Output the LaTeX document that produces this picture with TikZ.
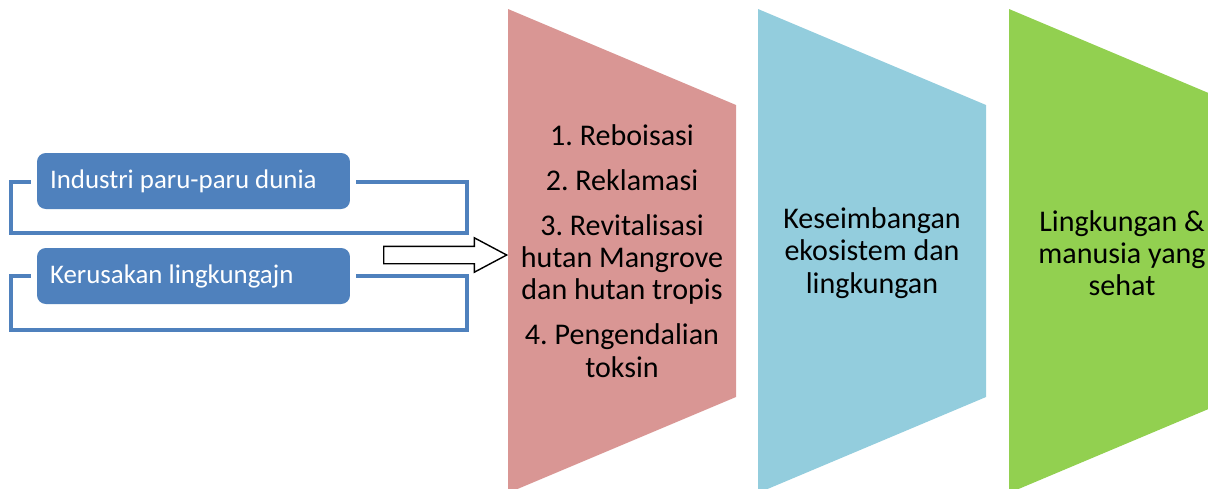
\documentclass[tikz,border=0pt]{standalone}
\usepackage{fontspec}
\setmainfont{Carlito}
\usetikzlibrary{shapes.arrows, positioning}

\definecolor{boxblue}{HTML}{4F81BD}
\definecolor{pinkfill}{HTML}{D99694}
\definecolor{bluefill}{HTML}{93CDDD}
\definecolor{greenfill}{HTML}{92D050}

\frenchspacing

\begin{document}
\begin{tikzpicture}[
        x=0.02cm, y=-0.02cm,
        font=\fontsize{17.1}{18.4}\selectfont,
        box/.style={preaction={draw=white, line width=6.8pt}, fill=boxblue, rounded corners=5pt, text=white, minimum width=6.26cm, minimum height=1.12cm, text width=5.74cm, align=flush left, inner xsep=0.26cm, font=\fontsize{15.3}{17}\selectfont},
        loop/.style={draw=boxblue, line width=2.3pt, minimum width=9.12cm, inner sep=0pt},
        stage/.style={align=flush center, inner sep=0pt},
        bigarr/.style={single arrow, draw, fill=white, line width=0.8pt, minimum width=0.66cm, minimum height=2.46cm, inner xsep=0pt, inner ysep=0.16cm, single arrow head extend=0.17cm, single arrow tip angle=56, single arrow head indent=0pt}
        ]
        \useasboundingbox (0,0) rectangle (1208,488);
        \clip (0,0) rectangle (1208,488);
        % left side
        \node[loop, minimum height=1.02cm] (loopA) at (239,207.5) {};
        \node[loop, minimum height=1.08cm] (loopB) at (239,303) {};
        \node[box] (ind) at (193.5,181) {Industri paru-paru dunia};
        \node[box] (rus) at (193.5,276) {Kerusakan lingkungajn};
        \node[bigarr, anchor=tail] (push) at (383,255) {};
        % stages
        \foreach \x/\c in {508/pinkfill, 758/bluefill, 1009/greenfill}
            \fill[\c] (\x,9) -- ++(228,96) -- ++(0,292) -- ++(-228,96) -- cycle;
        \node[stage] (acts) at (622,251) {1. Reboisasi\\[0.25cm] 2. Reklamasi\\[0.25cm] 3. Revitalisasi\\ hutan Mangrove\\ dan hutan tropis\\[0.25cm] 4. Pengendalian\\ toksin};
        \node[stage] (eco) at (872,253) {Keseimbangan\\ ekosistem dan\\ lingkungan};
        \node[stage] (life) at (1122,253) {Lingkungan \&\\ manusia yang\\ sehat};
    \end{tikzpicture}
\end{document}
